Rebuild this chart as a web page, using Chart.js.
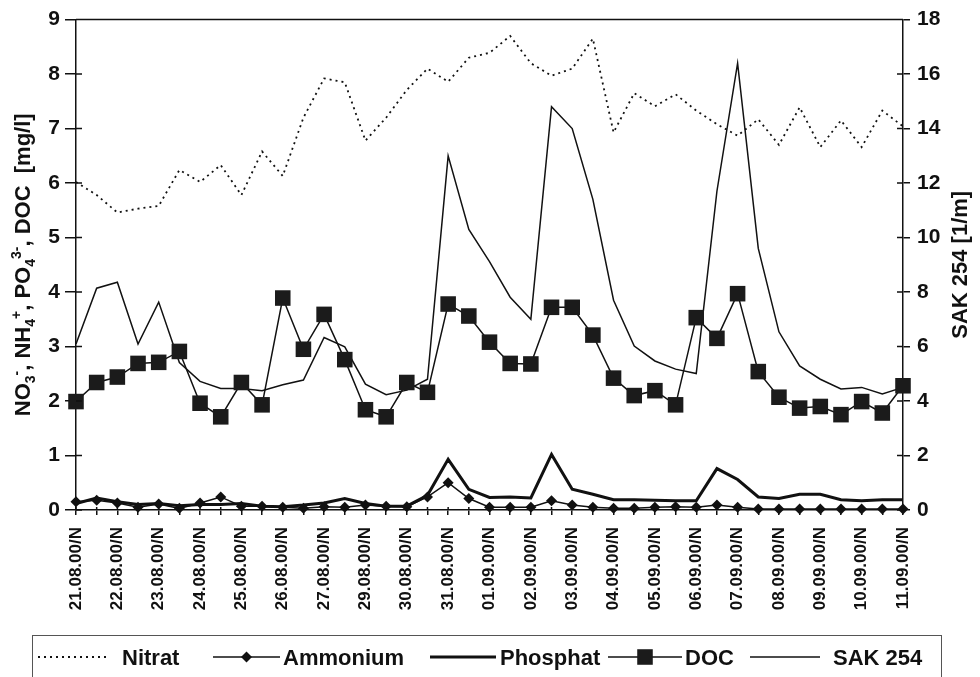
<!doctype html>
<html lang="de">
<head>
<meta charset="utf-8">
<title>Nitrat, Ammonium, Phosphat, DOC, SAK 254</title>
<style>
  html,body{margin:0;padding:0;background:#fff}
  .wrap{width:980px;height:677px}
</style>
</head>
<body>
<div class="wrap"><canvas id="chart" width="980" height="677"></canvas></div>
<script src="https://cdn.jsdelivr.net/npm/chart.js@4.4.1/dist/chart.umd.min.js"></script>
<script>
// labelled days (every second sample carries a label)
const dateLabels = ['21.08.00/N','22.08.00/N','23.08.00/N','24.08.00/N','25.08.00/N','26.08.00/N','27.08.00/N',
  '29.08.00/N','30.08.00/N','31.08.00/N','01.09.00/N','02.09.00/N','03.09.00/N','04.09.00/N','05.09.00/N',
  '06.09.00/N','07.09.00/N','08.09.00/N','09.09.00/N','10.09.00/N','11.09.00/N'];

// mg/l (left axis)
const nitrat = [6.02,5.78,5.46,5.53,5.58,6.24,6.02,6.33,5.78,6.58,6.13,7.2,7.92,7.85,6.78,7.2,7.71,8.1,7.86,8.3,
  8.39,8.7,8.2,7.97,8.1,8.65,6.93,7.65,7.41,7.63,7.33,7.08,6.87,7.17,6.7,7.39,6.66,7.15,6.66,7.33,7.04];
const ammonium = [0.15,0.18,0.13,0.05,0.11,0.03,0.13,0.24,0.07,0.07,0.05,0.03,0.06,0.05,0.09,0.07,0.06,0.24,0.5,0.21,
  0.05,0.05,0.05,0.17,0.09,0.05,0.03,0.03,0.05,0.06,0.05,0.09,0.05,0.02,0.02,0.02,0.02,0.02,0.02,0.02,0.02];
const phosphat = [0.12,0.22,0.15,0.1,0.12,0.08,0.1,0.1,0.12,0.07,0.06,0.09,0.13,0.21,0.12,0.07,0.07,0.27,0.93,0.38,
  0.23,0.24,0.22,1.02,0.38,0.29,0.19,0.19,0.18,0.17,0.17,0.76,0.56,0.24,0.21,0.29,0.29,0.19,0.17,0.19,0.19];
const doc = [1.99,2.34,2.44,2.69,2.71,2.91,1.96,1.71,2.34,1.93,3.89,2.95,3.59,2.76,1.84,1.71,2.34,2.16,3.78,3.56,
  3.08,2.69,2.68,3.72,3.72,3.21,2.42,2.1,2.19,1.93,3.53,3.15,3.97,2.54,2.07,1.87,1.9,1.75,1.99,1.78,2.28];
// 1/m (right axis)
const sak = [6.09,8.14,8.36,6.09,7.63,5.41,4.72,4.46,4.46,4.38,4.6,4.77,6.33,5.99,4.62,4.23,4.4,4.8,13.0,10.3,
  9.12,7.81,7.0,14.8,14.0,11.4,7.7,6.02,5.47,5.17,5.01,11.7,16.4,9.6,6.54,5.29,4.8,4.44,4.5,4.26,4.5];

const INK = '#111';
const FONT = 'Arial, "Liberation Sans", sans-serif';

// 41 samples, labels only on the even ones
const categories = nitrat.map((_, i) => i % 2 === 0 ? dateLabels[i / 2] : '');

// frame, inward tick halves, axis titles and the boxed legend
const decor = {
  id: 'decor',
  afterDraw(chart) {
    const { ctx, chartArea: a, scales } = chart;
    ctx.save();
    ctx.strokeStyle = INK;
    ctx.fillStyle = INK;
    ctx.lineWidth = 1.5;
    ctx.beginPath();
    ctx.moveTo(a.left, a.top); ctx.lineTo(a.right, a.top);
    scales.y.ticks.forEach((t, i) => {
      const y = scales.y.getPixelForTick(i);
      ctx.moveTo(a.left, y); ctx.lineTo(a.left + 6, y);
    });
    scales.y1.ticks.forEach((t, i) => {
      const y = scales.y1.getPixelForTick(i);
      ctx.moveTo(a.right, y); ctx.lineTo(a.right - 6, y);
    });
    scales.x.ticks.forEach((t, i) => {
      const x = scales.x.getPixelForTick(i);
      ctx.moveTo(x, a.bottom); ctx.lineTo(x, a.bottom - 3);
    });
    ctx.stroke();

    // left title with sub/superscripts
    const parts = [
      ['NO', 0], ['3', 1], ['-', 2], [', NH', 0], ['4', 1], ['+', 2], [', PO', 0], ['4', 1], ['3-', 2], [', DOC  [mg/l]', 0]
    ];
    const fontOf = k => k === 0 ? 'bold 22px ' + FONT : 'bold 14px ' + FONT;
    const shift = [0, 5, -9];
    let total = 0;
    parts.forEach(([t, k]) => { ctx.font = fontOf(k); total += ctx.measureText(t).width; });
    ctx.save();
    ctx.translate(30, (a.top + a.bottom) / 2);
    ctx.rotate(-Math.PI / 2);
    ctx.textBaseline = 'alphabetic';
    let px = -total / 2;
    parts.forEach(([t, k]) => {
      ctx.font = fontOf(k);
      ctx.fillText(t, px, shift[k]);
      px += ctx.measureText(t).width;
    });
    ctx.restore();

    // right title
    ctx.save();
    ctx.translate(967, (a.top + a.bottom) / 2);
    ctx.rotate(-Math.PI / 2);
    ctx.font = 'bold 22px ' + FONT;
    ctx.textAlign = 'center';
    ctx.textBaseline = 'alphabetic';
    ctx.fillText('SAK 254 [1/m]', 0, 0);
    ctx.restore();

    // legend box
    ctx.lineWidth = 1;
    ctx.strokeStyle = '#555';
    ctx.strokeRect(32.5, 635.5, 909, 80);
    const sampleX = [[38, 107], [213, 280], [430, 496], [608, 682], [750, 820]];
    const textX = [122, 283, 500, 685, 833];
    const ly = 657;
    ctx.font = 'bold 22px ' + FONT;
    ctx.textBaseline = 'alphabetic';
    chart.data.datasets.forEach((ds, i) => {
      const [x0, x1] = sampleX[i];
      ctx.strokeStyle = INK;
      ctx.lineWidth = ds.borderWidth;
      ctx.setLineDash(ds.borderDash || []);
      ctx.beginPath(); ctx.moveTo(x0, ly); ctx.lineTo(x1, ly); ctx.stroke();
      ctx.setLineDash([]);
      const cx = (x0 + x1) / 2;
      if (ds.pointRadius > 0) {
        ctx.fillStyle = ds.pointBackgroundColor;
        ctx.beginPath();
        if (ds.pointStyle === 'rectRot') {
          const r = ds.pointRadius;
          ctx.moveTo(cx, ly - r); ctx.lineTo(cx + r, ly); ctx.lineTo(cx, ly + r); ctx.lineTo(cx - r, ly);
        } else {
          const h = ds.pointRadius * Math.SQRT1_2;
          ctx.rect(cx - h, ly - h, 2 * h, 2 * h);
        }
        ctx.fill();
      }
      ctx.fillStyle = INK;
      ctx.fillText(ds.label, textX[i], ly + 8);
    });
    ctx.restore();
  }
};

const tickFont = { family: FONT, size: 21, weight: 'bold' };

new Chart(document.getElementById('chart'), {
  type: 'line',
  data: {
    labels: categories,
    datasets: [
      { label: 'Nitrat', data: nitrat, yAxisID: 'y', borderColor: INK, borderWidth: 1.8, borderDash: [2, 4],
        pointRadius: 0, clip: false },
      { label: 'Ammonium', data: ammonium, yAxisID: 'y', borderColor: INK, borderWidth: 1.5,
        pointStyle: 'rectRot', pointRadius: 5.5, pointBackgroundColor: INK, pointBorderColor: INK, pointBorderWidth: 0, clip: false },
      { label: 'Phosphat', data: phosphat, yAxisID: 'y', borderColor: INK, borderWidth: 3, pointRadius: 0, clip: false },
      { label: 'DOC', data: doc, yAxisID: 'y', borderColor: INK, borderWidth: 1.5,
        pointStyle: 'rect', pointRadius: 11, pointBackgroundColor: '#1b1b1b', pointBorderColor: '#1b1b1b', pointBorderWidth: 0, clip: false },
      { label: 'SAK 254', data: sak, yAxisID: 'y1', borderColor: INK, borderWidth: 1.5, pointRadius: 0, clip: false }
    ]
  },
  options: {
    responsive: false,
    animation: false,
    events: [],
    layout: { padding: { top: 17, left: 0, right: 0, bottom: 0 } },
    elements: { line: { tension: 0 } },
    plugins: { legend: { display: false }, tooltip: { enabled: false } },
    scales: {
      x: {
        type: 'category', offset: false,
        grid: { drawOnChartArea: false, drawTicks: true, tickLength: 5, color: INK, lineWidth: 1.5 },
        border: { color: INK, width: 1.5 },
        ticks: { autoSkip: false, minRotation: 90, maxRotation: 90, padding: 12, color: INK,
          font: { family: FONT, size: 17, weight: 'bold' } },
        afterFit: s => { s.height = 167; }
      },
      y: {
        position: 'left', min: 0, max: 9,
        grid: { drawOnChartArea: false, tickLength: 11, color: INK, lineWidth: 1.5 },
        border: { color: INK, width: 1.5 },
        ticks: { stepSize: 1, padding: 5, color: INK, font: tickFont },
        afterFit: s => { s.width = 76; }
      },
      y1: {
        position: 'right', min: 0, max: 18,
        grid: { drawOnChartArea: false, tickLength: 7, color: INK, lineWidth: 1.5 },
        border: { color: INK, width: 1.5 },
        ticks: { stepSize: 2, padding: 7, color: INK, font: tickFont },
        afterFit: s => { s.width = 77; }
      }
    }
  },
  plugins: [decor]
});
</script>
</body>
</html>
